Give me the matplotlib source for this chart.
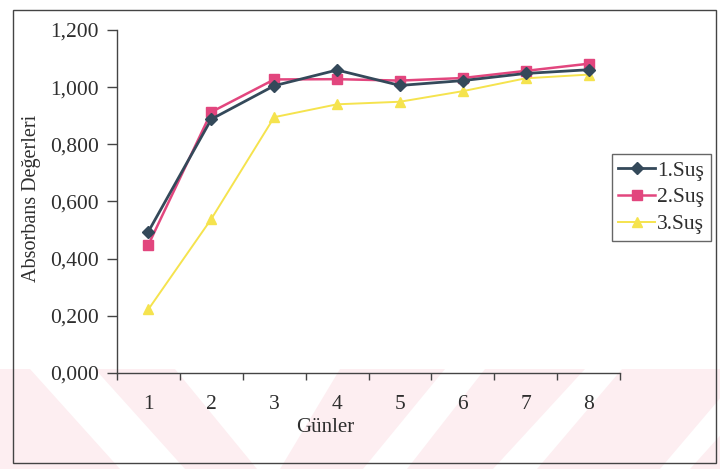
import matplotlib
matplotlib.use('Agg')
from matplotlib import pyplot as plt
from matplotlib.patches import Rectangle, Polygon
from matplotlib.ticker import FixedLocator, FuncFormatter

plt.rcParams['font.family'] = ['Liberation Serif', 'DejaVu Serif']

# Absorbance readings per day for the three strains
days = [1, 2, 3, 4, 5, 6, 7, 8]
sus1 = [0.495, 0.888, 1.005, 1.060, 1.006, 1.023, 1.048, 1.061]
sus2 = [0.449, 0.913, 1.027, 1.028, 1.023, 1.032, 1.057, 1.082]
sus3 = [0.223, 0.539, 0.895, 0.940, 0.949, 0.986, 1.031, 1.044]
series_names = ['1.Suş', '2.Suş', '3.Suş']
y_ticks = [0.0, 0.2, 0.4, 0.6, 0.8, 1.0, 1.2]

W, H = 720, 469


def px(x, y):
    # pixel position -> figure fraction
    return (x / W, 1 - y / H)


fig = plt.figure(figsize=(W / 100, H / 100), dpi=100)

# pale striped band along the bottom of the page
band_top, band_bot = 369, 469
fig.patches.append(Rectangle(px(0, band_bot), 1, (band_bot - band_top) / H,
                             transform=fig.transFigure, facecolor='#fdeef1',
                             edgecolor='none', zorder=-2))
stripes = [
    [(30, band_top), (95, band_top), (185, band_bot), (120, band_bot)],
    [(175, band_top), (340, band_top), (280, band_bot), (257, band_bot)],
    [(445, band_top), (485, band_top), (407, band_bot), (363, band_bot)],
    [(585, band_top), (622, band_top), (537, band_bot), (493, band_bot)],
    [(745, band_top), (780, band_top), (690, band_bot), (660, band_bot)],
]
for pts in stripes:
    fig.patches.append(Polygon([px(x, y) for x, y in pts], closed=True,
                               transform=fig.transFigure, facecolor='white',
                               edgecolor='none', zorder=-1))

# outer frame round the chart
x0, y0 = px(13, 463)
x1, y1 = px(716, 10)
fig.patches.append(Rectangle((x0, y0), x1 - x0, y1 - y0, transform=fig.transFigure,
                             fill=False, edgecolor='#444444', linewidth=1.0, zorder=5))

l, t = px(117, 30)
r, b = px(620, 373)
ax = fig.add_axes([l, b, r - l, t - b])
ax.patch.set_alpha(0)

ax.plot(days, sus1, color='#34495a', marker='D', markersize=6, linewidth=2.0,
        label=series_names[0], zorder=4)
ax.plot(days, sus2, color='#e2467e', marker='s', markersize=7, linewidth=1.8,
        label=series_names[1], zorder=3)
ax.plot(days, sus3, color='#f5e34e', marker='^', markersize=7, linewidth=1.4,
        label=series_names[2], zorder=2)

ax.set_xlim(0.5, 8.5)
ax.set_ylim(0, 1.2)
ax.set_xticks(days)
ax.set_xticklabels([str(d) for d in days])
ax.xaxis.set_minor_locator(FixedLocator([d + 0.5 for d in range(0, 9)]))
ax.tick_params(axis='x', which='major', length=0, pad=16, labelsize=15.5, labelcolor='#2e2e2e')
ax.tick_params(axis='x', which='minor', length=5, width=1, color='#444444', direction='out')
ax.set_yticks(y_ticks)
ax.yaxis.set_major_formatter(FuncFormatter(lambda v, p: f'{v:.3f}'.replace('.', ',')))
ax.tick_params(axis='y', length=7, width=1, color='#444444', pad=6, labelsize=15.5,
               labelcolor='#2e2e2e')

for side in ['top', 'right']:
    ax.spines[side].set_visible(False)
for side in ['left', 'bottom']:
    ax.spines[side].set_color('#444444')
    ax.spines[side].set_linewidth(1.0)

ax.set_xlabel('Günler', fontsize=15, color='#2e2e2e')
ax.xaxis.set_label_coords(0.4135, -0.13)
ax.set_ylabel('Absorbans Değerleri', fontsize=14.5, color='#2e2e2e')
ax.yaxis.set_label_coords(-0.151, 0.51)

leg = ax.legend(loc='upper left', bbox_to_anchor=px(612, 154), bbox_transform=fig.transFigure,
                fontsize=15.5, frameon=True, fancybox=False, framealpha=1, edgecolor='#666666',
                handlelength=1.7, handletextpad=0.1, labelspacing=0.32, borderpad=0.3,
                borderaxespad=0)
leg.get_frame().set_linewidth(1.0)
for text in leg.get_texts():
    text.set_color('#2e2e2e')

fig.savefig('out.png', dpi=100)
